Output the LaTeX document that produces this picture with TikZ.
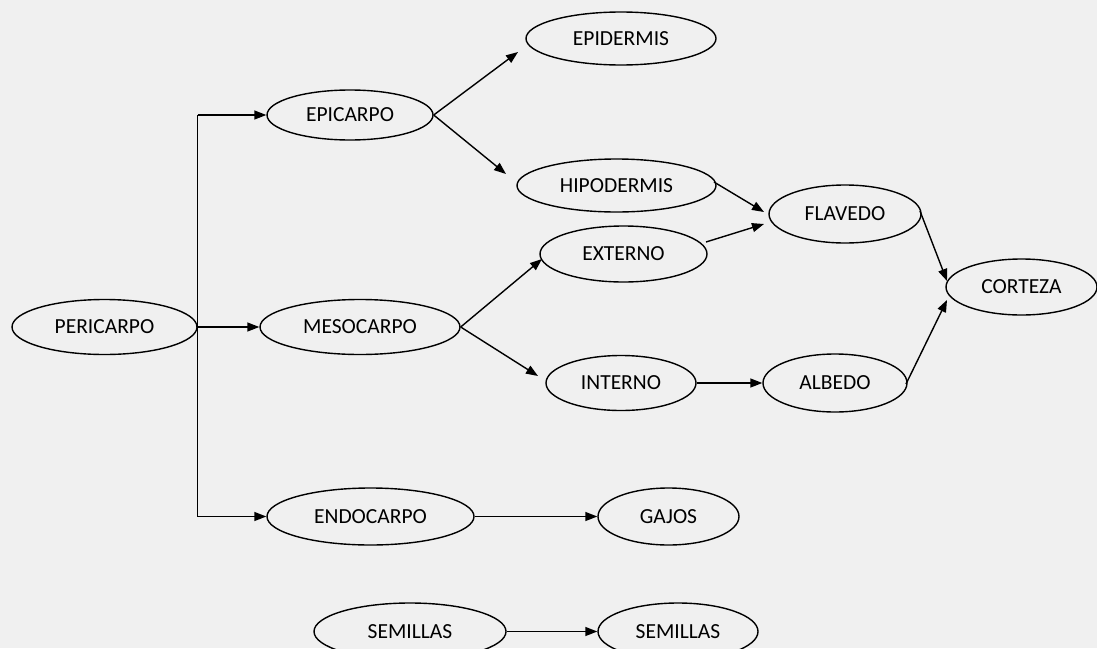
\documentclass[tikz,border=0pt]{standalone}
\usepackage{fontspec}
\setmainfont{Carlito}
\usetikzlibrary{shapes.geometric,arrows.meta}
\definecolor{bg}{HTML}{F0F0F0}
\tikzset{
  oval/.style={ellipse, draw=black, line width=1.4pt, fill=bg, inner sep=0pt,
    font=\fontsize{21.5}{25}\selectfont, text=black},
  arr/.style={line width=1.4pt, -{Triangle[length=12pt,width=9pt]}},
  ln/.style={line width=1.4pt}
}
\begin{document}
\begin{tikzpicture}[x=1pt,y=-1pt]
\fill[bg] (0,0) rectangle (1097,648);
\useasboundingbox (0,0) rectangle (1097,648);
\clip (0,0) rectangle (1097,648);
% nodes
\node[oval, minimum width=185, minimum height=55] (peri) at (104.5,327) {PERICARPO};
\node[oval, minimum width=166, minimum height=50] (epic) at (350,115) {EPICARPO};
\node[oval, minimum width=190, minimum height=53] (epid) at (621,38.5) {EPIDERMIS};
\node[oval, minimum width=199, minimum height=53] (hipo) at (616.5,185.5) {HIPODERMIS};
\node[oval, minimum width=152, minimum height=58] (flav) at (845,214) {FLAVEDO};
\node[oval, minimum width=151, minimum height=56] (cort) at (1021.5,287) {CORTEZA};
\node[oval, minimum width=167, minimum height=56] (exte) at (623.5,254) {EXTERNO};
\node[oval, minimum width=200, minimum height=55] (meso) at (360,327) {MESOCARPO};
\node[oval, minimum width=150, minimum height=55] (inte) at (621,383) {INTERNO};
\node[oval, minimum width=144, minimum height=58] (albe) at (835,383) {ALBEDO};
\node[oval, minimum width=207, minimum height=57] (endo) at (370.5,516.5) {ENDOCARPO};
\node[oval, minimum width=141, minimum height=57] (gajo) at (668.5,516.5) {GAJOS};
\node[oval, minimum width=192, minimum height=57] (sem1) at (410,631.5) {SEMILLAS};
\node[oval, minimum width=160, minimum height=57] (sem2) at (678,631.5) {SEMILLAS};
% free ends of angled connectors
\coordinate (tEpid) at (518,52);
\coordinate (tHipo) at (506,174);
\coordinate (tFlav1) at (764,212);
\coordinate (tFlav2) at (764,224);
\coordinate (tCort1) at (947,281);
\coordinate (tCort2) at (947,300);
\coordinate (tExte) at (542,259);
\coordinate (tInte) at (538,376);
\coordinate (sHipo) at (714,182);
\coordinate (sExte) at (706,242);
\coordinate (sFlav) at (920,211);
\coordinate (sAlbe) at (906,384);
% pericarpo branches
\draw[ln] (peri.east |- epic) -- (peri.east |- endo);
\draw[arr] (peri.east |- epic) -- (epic.west);
\draw[arr] (peri.east) -- (meso.west);
\draw[arr] (peri.east |- endo) -- (endo.west);
% epicarpo
\draw[arr] (epic.east) -- (tEpid);
\draw[arr] (epic.east) -- (tHipo);
% mesocarpo
\draw[arr] (meso.east) -- (tExte);
\draw[arr] (meso.east) -- (tInte);
% to flavedo / albedo
\draw[arr] (sHipo) -- (tFlav1);
\draw[arr] (sExte) -- (tFlav2);
\draw[arr] (inte.east) -- (albe.west);
% to corteza
\draw[arr] (sFlav) -- (tCort1);
\draw[arr] (sAlbe) -- (tCort2);
% endocarpo, semillas
\draw[arr] (endo.east) -- (gajo.west);
\draw[arr] (sem1.east) -- (sem2.west);
\end{tikzpicture}
\end{document}
